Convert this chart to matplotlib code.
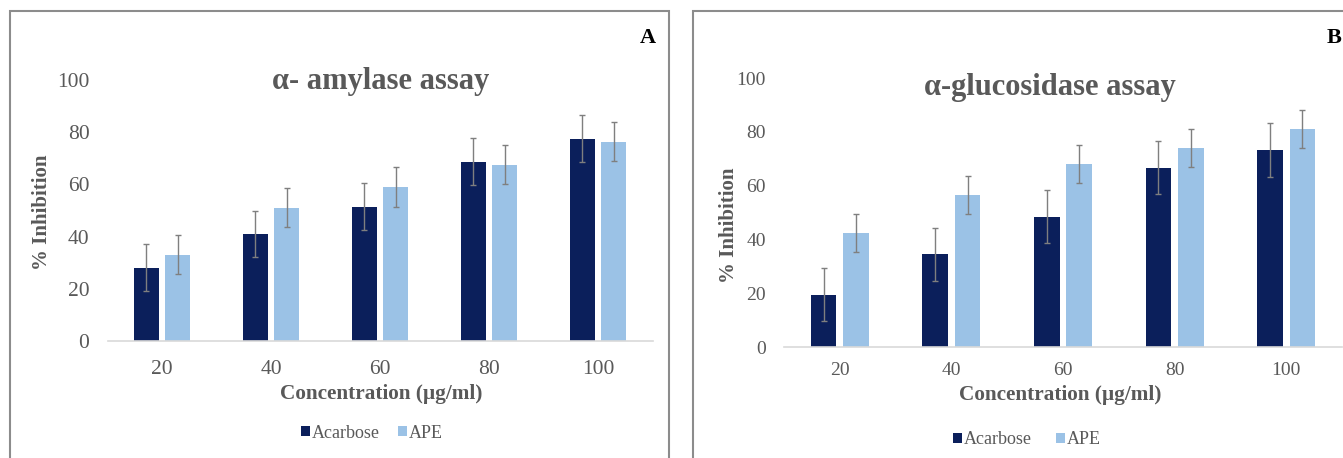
import numpy as np
import matplotlib.pyplot as plt
from matplotlib.patches import Rectangle

plt.rcParams['font.family'] = ['Liberation Serif', 'DejaVu Serif']

concentrations = ['20', '40', '60', '80', '100']

# panel A: alpha-amylase
amylase_acarbose = [28, 41, 51.5, 68.7, 77.5]
amylase_acarbose_err = [9, 9, 9, 9, 9]
amylase_ape = [33, 51, 59, 67.5, 76.3]
amylase_ape_err = [7.5, 7.5, 7.5, 7.5, 7.5]

# panel B: alpha-glucosidase
glucosidase_acarbose = [19.5, 34.4, 48.5, 66.7, 73.3]
glucosidase_acarbose_err = [10, 10, 10, 10, 10]
glucosidase_ape = [42.5, 56.5, 68, 74, 81]
glucosidase_ape_err = [7, 7, 7, 7, 7]

DARK = '#0b1f5b'
LIGHT = '#9bc2e6'
TXT = '#595959'
W, H = 1343, 458


def px_axes(fig, x0, x1, y_top, y_bot):
    return fig.add_axes([x0 / W, 1 - y_bot / H, (x1 - x0) / W, (y_bot - y_top) / H])


def draw_panel(ax, acarbose, acarbose_err, ape, ape_err, tick_size, xpad, ypad):
    x = np.arange(len(concentrations))
    bw = 0.23
    ax.bar(x - 0.145, acarbose, bw, color=DARK, label='Acarbose', zorder=2)
    ax.bar(x + 0.145, ape, bw, color=LIGHT, label='APE', zorder=2)
    ax.errorbar(x - 0.145, acarbose, yerr=acarbose_err, fmt='none', ecolor='#7f7f7f',
                elinewidth=1, capsize=2.5, capthick=1, zorder=3)
    ax.errorbar(x + 0.145, ape, yerr=ape_err, fmt='none', ecolor='#7f7f7f',
                elinewidth=1, capsize=2.5, capthick=1, zorder=3)
    ax.set_xlim(-0.5, len(concentrations) - 0.5)
    ax.set_ylim(0, 100)
    ax.set_yticks([0, 20, 40, 60, 80, 100])
    ax.set_xticks(x)
    ax.set_xticklabels(concentrations)
    for s in ['top', 'right', 'left']:
        ax.spines[s].set_visible(False)
    ax.spines['bottom'].set_color('#d9d9d9')
    ax.spines['bottom'].set_linewidth(1.2)
    ax.tick_params(axis='both', length=0, colors=TXT, labelsize=tick_size)
    ax.tick_params(axis='y', pad=ypad)
    ax.tick_params(axis='x', pad=xpad)
    ax.set_facecolor('none')


fig = plt.figure(figsize=(W / 100, H / 100), dpi=100)

# panel frames
fig.add_artist(Rectangle((10 / W, -0.05), 659 / W, 1 - 11 / H + 0.05, transform=fig.transFigure,
                         fill=False, edgecolor='#8c8c8c', linewidth=1.5))
fig.add_artist(Rectangle((693 / W, -0.05), 700 / W, 1 - 11 / H + 0.05, transform=fig.transFigure,
                         fill=False, edgecolor='#8c8c8c', linewidth=1.5))

axA = px_axes(fig, 107.5, 652.5, 80, 341)
draw_panel(axA, amylase_acarbose, amylase_acarbose_err, amylase_ape, amylase_ape_err, 15.5, 14, 13)
axB = px_axes(fig, 784, 1342, 78, 347)
draw_panel(axB, glucosidase_acarbose, glucosidase_acarbose_err, glucosidase_ape, glucosidase_ape_err, 14, 11, 13)

# panel A texts
fig.text(381 / W, 1 - 82 / H, 'α- amylase assay', ha='center', va='center', fontsize=22,
         fontweight='bold', color=TXT)
fig.text(42 / W, 1 - 212 / H, '% Inhibition', ha='center', va='center', rotation=90,
         fontsize=15, fontweight='bold', color=TXT)
fig.text(381 / W, 1 - 394 / H, 'Concentration (µg/ml)', ha='center', va='center', fontsize=15.3,
         fontweight='bold', color=TXT)
fig.text(648 / W, 1 - 38 / H, 'A', ha='center', va='center', fontsize=16, fontweight='bold',
         color='black')
axA.legend(loc='center', bbox_to_anchor=(372 / W, 1 - 433 / H), bbox_transform=fig.transFigure,
           ncol=2, frameon=False, fontsize=13, handlelength=0.5, handleheight=0.5,
           handletextpad=0.12, columnspacing=1.0, labelcolor=TXT)

# panel B texts
fig.text(1050 / W, 1 - 88 / H, 'α-glucosidase assay', ha='center', va='center', fontsize=22,
         fontweight='bold', color=TXT)
fig.text(729 / W, 1 - 225 / H, '% Inhibition', ha='center', va='center', rotation=90,
         fontsize=15, fontweight='bold', color=TXT)
fig.text(1060 / W, 1 - 395 / H, 'Concentration (µg/ml)', ha='center', va='center', fontsize=15.3,
         fontweight='bold', color=TXT)
fig.text(1334 / W, 1 - 38 / H, 'B', ha='center', va='center', fontsize=16, fontweight='bold',
         color='black')
axB.legend(loc='center', bbox_to_anchor=(1027 / W, 1 - 440 / H), bbox_transform=fig.transFigure,
           ncol=2, frameon=False, fontsize=13, handlelength=0.5, handleheight=0.5,
           handletextpad=0.12, columnspacing=1.3, labelcolor=TXT)

fig.savefig('out.png', dpi=100)
